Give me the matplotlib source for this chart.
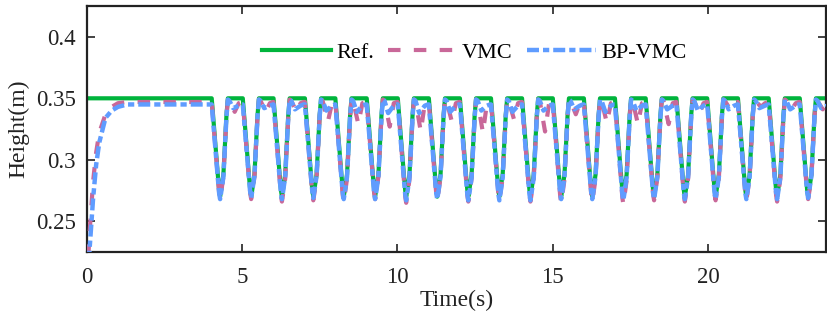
import numpy as np
import matplotlib.pyplot as plt
from matplotlib.ticker import FuncFormatter

# times of the dip minima (s)
dip_t = [4.29, 5.29, 6.28, 7.29, 8.27, 9.28, 10.28, 11.28, 12.28, 13.28,
         14.28, 15.27, 16.27, 17.27, 18.26, 19.25, 20.24, 21.23, 22.22, 23.22]

# reference height
ref_top = 0.35
ref_min = 0.27

# depth of each dip
vmc_min = [0.268, 0.268, 0.266, 0.267, 0.266, 0.268, 0.265, 0.267, 0.266, 0.267,
           0.266, 0.265, 0.266, 0.264, 0.267, 0.266, 0.267, 0.267, 0.266, 0.268]
bp_min = [0.268, 0.269, 0.268, 0.269, 0.268, 0.268, 0.267, 0.268, 0.267, 0.267,
          0.267, 0.268, 0.268, 0.267, 0.268, 0.268, 0.268, 0.268, 0.268, 0.269]

# lowest point of the sag between two dips
vmc_sag = [0.339, 0.339, 0.339, 0.331, 0.329, 0.327, 0.323, 0.331, 0.322, 0.333,
           0.323, 0.337, 0.330, 0.329, 0.329, 0.337, 0.341, 0.343, 0.341, 0.341]
bp_sag = [0.342, 0.342, 0.341, 0.340, 0.339, 0.338, 0.338, 0.339, 0.340, 0.339,
          0.340, 0.341, 0.339, 0.340, 0.341, 0.340, 0.341, 0.342, 0.341, 0.342]

# start-up of the two controllers
start_t = [0.0, 0.1, 0.2, 0.3, 0.4, 0.6, 0.8, 1.0, 1.3, 1.6]
vmc_start = [0.200, 0.245, 0.282, 0.306, 0.322, 0.337, 0.343, 0.346, 0.347, 0.347]
bp_start = [0.195, 0.232, 0.268, 0.296, 0.314, 0.334, 0.340, 0.343, 0.345, 0.345]
vmc_flat = 0.347
bp_flat = 0.345
peak = 0.349

# dip profile: offset from minimum (s) and fraction of the depth
dip_off = [-0.27, -0.22, -0.16, -0.074, -0.03, 0.0, 0.03, 0.106, 0.16, 0.205, 0.25]
dip_frac = [0.0, 0.2, 0.44, 0.775, 0.94, 1.0, 0.94, 0.775, 0.44, 0.17, 0.0]

t_end = 23.8


def ref_series():
    x, y = [0.0], [ref_top]
    for m in dip_t:
        for o, f in zip(dip_off, dip_frac):
            x.append(m + o)
            y.append(ref_top - f * (ref_top - ref_min))
    x.append(t_end)
    y.append(ref_top)
    return x, y


def ctrl_series(st, sy, flat, mins, sags, sag_at):
    x, y = list(st), list(sy)
    for m, lo, sg in zip(dip_t, mins, sags):
        for o, f in zip(dip_off, dip_frac):
            top = flat if o < 0 else peak
            x.append(m + o)
            y.append(top - f * (top - lo))
        x += [m + 0.3, m + sag_at, m + 0.6, m + 0.7]
        y += [peak - 0.001, sg, flat - 0.001, flat]
    x.append(t_end)
    y.append(flat)
    return x, y


plt.rcParams['font.family'] = ['Liberation Serif', 'DejaVu Serif']
fig = plt.figure(figsize=(8.27, 3.21), dpi=100)
ax = fig.add_axes([0.105, 0.215, 0.894, 0.766])

c_ref = '#00b43c'
c_vmc = '#c96899'
c_bp = '#5f9cff'

xr, yr = ref_series()
xv, yv = ctrl_series(start_t, vmc_start, vmc_flat, vmc_min, vmc_sag, 0.47)
xb, yb = ctrl_series(start_t, bp_start, bp_flat, bp_min, bp_sag, 0.42)

ax.plot(xr, yr, color=c_ref, lw=3.0, label='Ref.', zorder=2)
ax.plot(xv, yv, color=c_vmc, lw=3.0, dashes=(3.0, 3.2), label='VMC', zorder=3)
ax.plot(xb, yb, color=c_bp, lw=3.2, dashes=(2.7, 0.9, 1.4, 0.9), label='BP-VMC', zorder=4)

ax.set_xlim(0, t_end)
ax.set_ylim(0.225, 0.425)
ax.set_xticks([0, 5, 10, 15, 20])
ax.set_yticks([0.25, 0.3, 0.35, 0.4])
ax.yaxis.set_major_formatter(FuncFormatter(lambda v, p: '%g' % round(v, 3)))

ax.tick_params(direction='in', length=6, width=1.2, top=True, right=True,
               labelsize=16.5, colors='#222222')
ax.tick_params(axis='x', pad=11)
ax.tick_params(axis='y', pad=8)
for s in ax.spines.values():
    s.set_linewidth(1.6)
    s.set_color('#222222')

ax.set_xlabel('Time(s)', fontsize=17, color='#222222', labelpad=1)
ax.set_ylabel('Height(m)', fontsize=17, color='#222222', labelpad=5)

ax.legend(loc='center', bbox_to_anchor=(0.524, 0.81), ncol=3, frameon=False,
          fontsize=16, handlelength=3.1, handletextpad=0.22, columnspacing=0.65)

fig.savefig('out.png', dpi=100)
